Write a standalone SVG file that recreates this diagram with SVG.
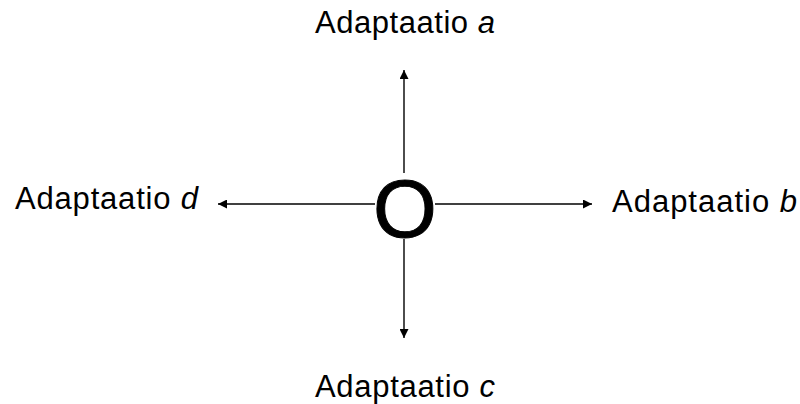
<svg xmlns="http://www.w3.org/2000/svg" width="800" height="404" viewBox="0 0 800 404">
<style>
.lbl{font-family:"Liberation Sans",Arial,sans-serif;font-size:31px;fill:#000}
.it{font-style:italic}
.conn{stroke:#000;stroke-width:1.4;fill:none;marker-end:url(#ah)}
</style>
<defs>
<marker id="ah" viewBox="0 0 10 10" refX="10" refY="5" markerWidth="10" markerHeight="9" markerUnits="userSpaceOnUse" orient="auto">
<path d="M0,0 L10,5 L0,10 z" fill="#000"/>
</marker>
</defs>
<rect width="800" height="404" fill="#fff"/>
<g id="connectors">
<line class="conn" x1="404" y1="173" x2="404" y2="70"/>
<line class="conn" x1="435" y1="204" x2="592" y2="204"/>
<line class="conn" x1="404" y1="239" x2="404" y2="338"/>
<line class="conn" x1="375" y1="204" x2="218" y2="204"/>
</g>
<g id="center"><text x="405" y="237" text-anchor="middle" style="font-family:'Liberation Sans',Arial,sans-serif;font-size:82px;stroke:#000;stroke-width:1">O</text></g>
<g id="a"><text class="lbl" x="315" y="33" textLength="180">Adaptaatio <tspan class="it">a</tspan></text></g>
<g id="b"><text class="lbl" x="612" y="212" textLength="185">Adaptaatio <tspan class="it">b</tspan></text></g>
<g id="c"><text class="lbl" x="315" y="397" textLength="180">Adaptaatio <tspan class="it">c</tspan></text></g>
<g id="d"><text class="lbl" x="15" y="209" textLength="183">Adaptaatio <tspan class="it">d</tspan></text></g>
</svg>
